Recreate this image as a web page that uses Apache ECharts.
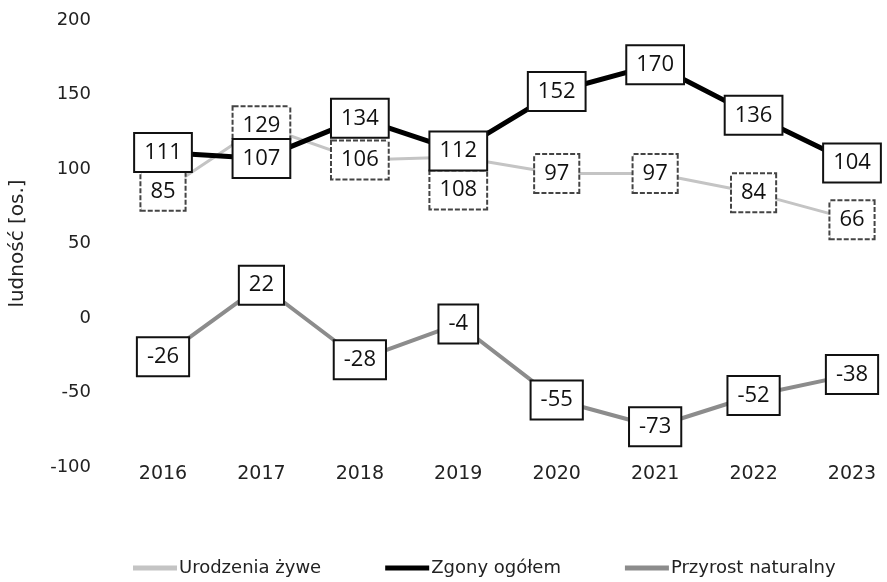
<!DOCTYPE html>
<html><head><meta charset="utf-8">
<script src="https://cdn.jsdelivr.net/npm/echarts@6/dist/echarts.min.js"></script>
<style>html,body{margin:0;padding:0;background:#fff}#c{width:887px;height:582px}</style>
</head><body><div id="c"></div>
<script>
const years = ['2016','2017','2018','2019','2020','2021','2022','2023'];
const urodzenia = [85,129,106,108,97,97,84,66];
const zgony = [111,107,134,112,152,170,136,104];
const przyrost = [-26,22,-28,-4,-55,-73,-52,-38];
const yTicks = {min:-100, max:200, interval:50};
const seriesNames = ['Urodzenia żywe','Zgony ogółem','Przyrost naturalny'];

const LFONT = 'Open Sans';
const AFONT = 'DejaVu Sans';
function lbl(border, dash){
  return {show:true, position:'inside', fontFamily:LFONT, fontSize:22, color:'#111',
    backgroundColor:'#fff', borderColor:border, borderWidth:2, borderType:dash||'solid',
    padding:[8,9,7,9]};
}
const chart = echarts.init(document.getElementById('c'));
chart.setOption({
  animation:false,
  textStyle:{fontFamily:AFONT},
  grid:{left:161,right:35,top:20,bottom:115,containLabel:false},
  xAxis:{type:'category',data:years,boundaryGap:false,
    axisLine:{show:false},axisTick:{show:false},
    axisLabel:{margin:-2,fontSize:19,color:'#222',fontFamily:AFONT}},
  yAxis:{type:'value',min:yTicks.min,max:yTicks.max,interval:yTicks.interval,
    splitLine:{show:false},axisLine:{show:false},axisTick:{show:false},
    axisLabel:{margin:72,fontSize:18,color:'#222',fontFamily:AFONT},
    name:'ludność [os.]',nameLocation:'middle',nameRotate:90,nameGap:135,
    nameTextStyle:{fontSize:20,color:'#222',fontFamily:AFONT}},
  legend:{bottom:0,left:128,itemWidth:44,itemHeight:5,itemGap:64,icon:'rect',
    textStyle:{fontSize:18,color:'#222',fontFamily:AFONT,padding:[0,0,0,-3]},
    data:seriesNames},
  series:[
    {name:seriesNames[0],type:'line',data:urodzenia.map((v,i)=> i===3 ? {value:v,label:{offset:[0,33]}} : v),
      symbol:'circle',symbolSize:1,showSymbol:true,lineStyle:{color:'#c4c4c4',width:3},itemStyle:{color:'#c4c4c4'},
      label:lbl('#444',[5,2]),z:2},
    {name:seriesNames[2],type:'line',data:przyrost,symbol:'circle',symbolSize:1,showSymbol:true,
      lineStyle:{color:'#8c8c8c',width:4},itemStyle:{color:'#8c8c8c'},
      label:lbl('#111'),z:3},
    {name:seriesNames[1],type:'line',data:zgony,symbol:'circle',symbolSize:1,showSymbol:true,
      lineStyle:{color:'#000',width:5},itemStyle:{color:'#000'},
      label:lbl('#111'),z:4}
  ]
});
</script></body></html>
